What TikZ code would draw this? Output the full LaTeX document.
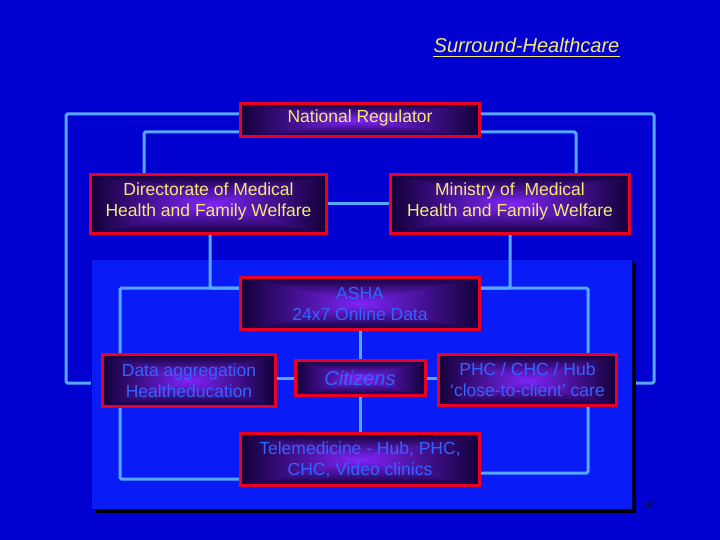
\documentclass[tikz,border=0pt]{standalone}
\usepackage{fontspec}
\setmainfont{Liberation Sans}
\newfontfamily\serifnum{Liberation Serif}
\usetikzlibrary{calc}
\definecolor{bgblue}{RGB}{0,0,208}
\definecolor{panelblue}{RGB}{10,28,245}
\definecolor{linkblue}{RGB}{85,168,255}
\definecolor{boxred}{RGB}{235,0,35}
\definecolor{txtyellow}{RGB}{245,235,115}
\definecolor{txtblue}{RGB}{50,100,255}
\definecolor{numdark}{RGB}{10,10,50}
\pgfdeclarefunctionalshading{boxshade}{\pgfpointorigin}{\pgfpoint{100bp}{100bp}}{}{
  50 sub abs exch 50 sub abs 2 copy lt {exch} if pop 25 div
  dup 1 gt {pop 1} if
  dup -0.43 mul 0.50 add exch
  dup -0.14 mul 0.14 add exch
  -0.76 mul 0.98 add
}
\pgfdeclarelayer{base}
\pgfdeclarelayer{back}
\pgfsetlayers{base,back,main}
\newcommand\upline[1]{\raisebox{2.5pt}[\height][\depth]{#1}}
\tikzset{
  orgbox/.style={draw=boxred, line width=3pt, shade, shading=boxshade, inner sep=0pt,
    align=center, font=\fontsize{17.5}{21}\selectfont},
  topbox/.style={orgbox, text=txtyellow},
  lowbox/.style={orgbox, text=txtblue},
  link/.style={draw=linkblue, line width=3pt, rounded corners=1.5pt},
}
\begin{document}
\begin{tikzpicture}[x=1pt,y=-1pt]
\useasboundingbox (0,0) rectangle (720,540);
\begin{pgfonlayer}{base}
  \fill[bgblue] (0,0) rectangle (720,540);
\end{pgfonlayer}

% title
\node[font=\fontsize{20}{24}\selectfont\itshape, text=txtyellow, inner sep=0pt, anchor=base] (title) at (526.5,53) {Surround-Healthcare};
\draw[txtyellow, line width=1.3pt] ([yshift=-3.5pt]title.base west) -- ([yshift=-3.5pt]title.base east);

% boxes
\node[topbox, minimum width=239pt, minimum height=33pt] (NR) at (360,120) {\upline{National Regulator}};
\node[topbox, minimum width=236pt, minimum height=59pt] (Dir) at (208.5,204) {\upline{Directorate of Medical}\\\upline{Health and Family Welfare}};
\node[topbox, minimum width=239pt, minimum height=59pt] (Min) at (510,204) {\upline{Ministry of~ Medical}\\\upline{Health and Family Welfare}};
\node[lowbox, minimum width=239pt, minimum height=52pt] (ASHA) at (360,303.5) {ASHA\\24x7 Online Data};
\node[lowbox, minimum width=173pt, minimum height=52pt] (DA) at (189,380.5) {Data aggregation\\Healtheducation};
\node[lowbox, minimum width=130pt, minimum height=35pt, font=\fontsize{20}{24}\selectfont\itshape] (Cit) at (360,378) {Citizens};
\node[lowbox, minimum width=178pt, minimum height=51pt] (PHC) at (527.5,380) {PHC / CHC / Hub\\`close-to-client' care};
\node[lowbox, minimum width=239pt, minimum height=52pt] (Tele) at (360,459.5) {Telemedicine - Hub, PHC,\\CHC, Video clinics};

\node[font=\serifnum\fontsize{10}{11}\selectfont, text=numdark, inner sep=0pt] (pg) at (650,505) {47};

\coordinate (oL) at (66,114);
\coordinate (oR) at (654,114);
\coordinate (iL) at (120,288);
\coordinate (iR) at (588,288);

\begin{pgfonlayer}{back}
  % outer links
  \draw[link] ([yshift=6pt]NR.west) -- (oL) |- ([yshift=-2.5pt]DA.west);
  \draw[link] ([yshift=6pt]NR.east) -- (oR) |- ([yshift=-3pt]PHC.east);
  \draw[link] ([yshift=-12pt]NR.west) -| ([xshift=-64.5pt]Dir.north);
  \draw[link] ([yshift=-12pt]NR.east) -| ([xshift=66pt]Min.north);
  \draw[link] (Dir.east) -- (Min.west);
  % panel
  \fill[black] (95,263) rectangle (636,513);
  \node[draw=black!70!blue, line width=0.6pt, fill=panelblue, inner sep=0pt,
        minimum width=541pt, minimum height=250pt] (panel) at (361.5,384) {};
  % inner links
  \draw[link] ([xshift=1.5pt]Dir.south) |- ([yshift=15.5pt]ASHA.west);
  \draw[link] (Min.south) |- ([yshift=15.5pt]ASHA.east);
  \draw[link] ([yshift=15.5pt]ASHA.west) -- (iL) |- ([yshift=-19.5pt]Tele.west);
  \draw[link] ([yshift=15.5pt]ASHA.east) -- (iR) |- ([yshift=-13.5pt]Tele.east);
  \draw[link] (ASHA.south) -- (Cit.north);
  \draw[link] (Cit.south) -- (Tele.north);
  \draw[link] (Cit.west) -- (Cit.west -| DA.east);
  \draw[link] (Cit.east) -- (Cit.east -| PHC.west);
\end{pgfonlayer}
\end{tikzpicture}
\end{document}
